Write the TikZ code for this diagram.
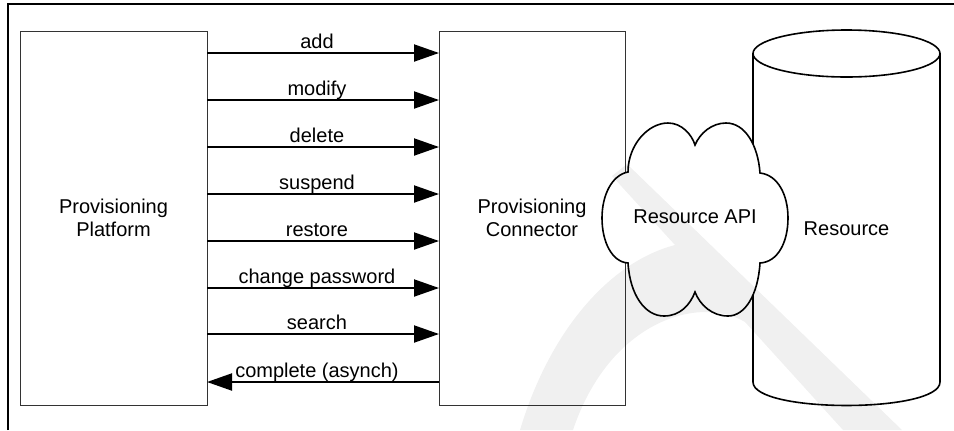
\documentclass[tikz,border=0pt]{standalone}
\usepackage{fontspec}
\setmainfont{Liberation Sans}
\usetikzlibrary{arrows.meta}
\tikzset{
  boxnode/.style={draw=black!80, line width=0.75pt, inner sep=0pt, outer sep=0pt,
    minimum height=280.5pt, align=center, font=\fontsize{15}{17.25}\selectfont},
  msg/.style={-{Triangle[length=18.75pt,width=12.75pt]}, line width=1.5pt},
  lbl/.style={anchor=base, yshift=3.6pt, inner sep=0pt, font=\fontsize{15}{17.25}\selectfont},
  txt/.style={align=center, inner sep=0pt, font=\fontsize{15}{17.25}\selectfont},
  shapeline/.style={line width=1.2pt, black},
  frame/.style={line width=1.5pt, black},
}
\begin{document}
\begin{tikzpicture}[x=0.75pt,y=-0.75pt]
\useasboundingbox (0,0) rectangle (954,430);
% frame
\coordinate (fbl) at (8,430);
\coordinate (ftl) at (8,4);
\coordinate (ftr) at (954,4);
\draw[frame] (fbl) -- (ftl) -- (ftr);
% boxes
\node[boxnode, minimum width=140.25pt] (platform) at (113.5,218) {Provisioning\\Platform};
\node[boxnode, minimum width=139.5pt] (connector) at (532,218) {Provisioning\\Connector};
% arrows
\draw[msg] (platform.east |- 0,53) -- node[lbl, pos=0.474] (l1) {add} (connector.west |- 0,53);
\draw[msg] (platform.east |- 0,100) -- node[lbl, pos=0.474] (l2) {modify} (connector.west |- 0,100);
\draw[msg] (platform.east |- 0,147) -- node[lbl, pos=0.474] (l3) {delete} (connector.west |- 0,147);
\draw[msg] (platform.east |- 0,194) -- node[lbl, pos=0.474] (l4) {suspend} (connector.west |- 0,194);
\draw[msg] (platform.east |- 0,241) -- node[lbl, pos=0.474] (l5) {restore} (connector.west |- 0,241);
\draw[msg] (platform.east |- 0,288) -- node[lbl, pos=0.474] (l6) {change password} (connector.west |- 0,288);
\draw[msg] (platform.east |- 0,334) -- node[lbl, pos=0.474] (l7) {search} (connector.west |- 0,334);
\draw[msg] (connector.west |- 0,382) -- node[lbl, pos=0.526] (l8) {complete (asynch)} (platform.east |- 0,382);
% cylinder (Resource)
\draw[shapeline] (753,53.5) -- (753,382) .. controls (753,413.3) and (940,413.3) .. (940,382) -- (940,53.5);
\draw[shapeline] (846.5,53.5) ellipse [x radius=93.5, y radius=23.5];
\node[txt] (res) at (846.5,229) {Resource};
% cloud (Resource API)
\draw[shapeline, fill=white]
  (628,172) .. controls (628,145) and (648,123) .. (668,123)
  .. controls (682,123) and (692,135) .. (695,145)
  .. controls (700,133) and (712,123) .. (726,123)
  .. controls (745,123) and (758,145) .. (760,173)
  .. controls (778,175) and (788,195) .. (788,218)
  .. controls (788,242) and (778,262) .. (760,263)
  .. controls (758,295) and (745,316) .. (728,316)
  .. controls (712,316) and (700,305) .. (695,292)
  .. controls (690,305) and (680,316) .. (664,316)
  .. controls (645,316) and (630,295) .. (628,263)
  .. controls (612,262) and (602,242) .. (602,218)
  .. controls (602,195) and (612,175) .. (628,172) -- cycle;
\node[txt] (api) at (695,217) {Resource API};
% watermark
\fill[black, fill opacity=0.06]
  (612,176) -- (627,164) -- (902,430) -- (843,430) -- (745,322)
  .. controls (700,295) and (610,320) .. (573,430) -- (520,430)
  .. controls (550,330) and (610,262) .. (675,245) -- cycle;
\end{tikzpicture}
\end{document}
